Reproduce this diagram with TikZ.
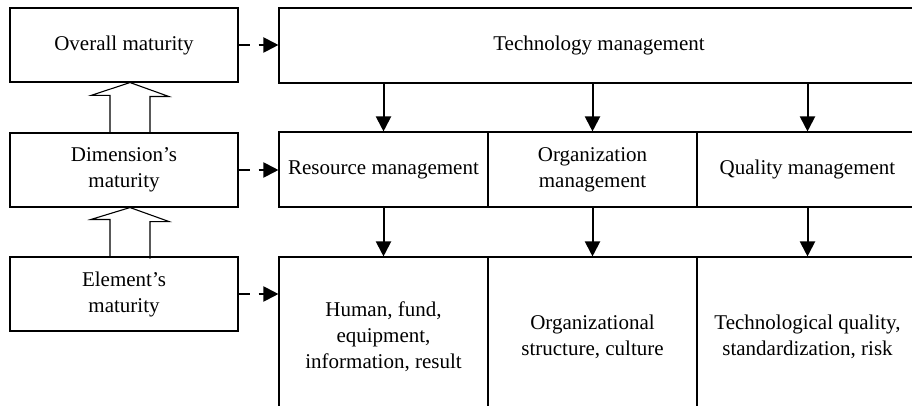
\documentclass[tikz,border=0pt]{standalone}
\usepackage{fontspec}
\setmainfont{Liberation Serif}
\usetikzlibrary{arrows.meta}

\tikzset{
  level/.style={draw, line width=1.1pt, minimum width=228pt, minimum height=74pt,
    align=center, inner sep=0pt},
  part/.style={draw, line width=1.1pt, minimum height=75pt, align=center, inner sep=0pt},
  leaf/.style={draw, line width=1.1pt, minimum height=160pt, align=center, inner sep=0pt},
  solidarrow/.style={line width=2pt, -{Triangle[length=15pt,width=15pt]}},
  dasharrow/.style={line width=2pt, dash pattern=on 11pt off 9pt on 40pt,
    -{Triangle[length=15pt,width=15pt]}},
  hollow/.style={line width=1.1pt, line join=miter}
}

\begin{document}
\begin{tikzpicture}[x=1pt, y=-1pt, font=\fontsize{21}{26}\selectfont]
            \useasboundingbox (0,0) rectangle (912,406);
            \clip (0,0) rectangle (912,406);

            % Maturity levels on the left
            \node[level] (overall) at (124,45) {Overall maturity};
            \node[level] (dimension) at (124,170) {Dimension's\\maturity};
            \node[level] (element) at (124,294) {Element's\\maturity};

            % Management structure on the right
            \node[part, minimum width=640pt] (tech) at (599,45.5) {Technology management};
            \node[part, minimum width=209pt] (resource) at (383.5,169.5) {Resource management};
            \node[part, minimum width=210pt] (organization) at (592.5,169.5) {Organization\\management};
            \node[part, minimum width=221pt] (quality) at (807.5,169.5) {Quality management};
            \node[leaf, minimum width=209pt] (human) at (383.5,337) {Human, fund,\\equipment,\\information, result};
            \node[leaf, minimum width=210pt] (orgstruct) at (592.5,337) {Organizational\\structure, culture};
            \node[leaf, minimum width=221pt] (techquality) at (807.5,337) {Technological quality,\\standardization, risk};

            % Hollow arrows between levels
            \foreach \lo/\hi in {dimension/overall, element/dimension}
              \draw[hollow] ([xshift=-14pt]\lo.north) -- ++(0,-37) -- ++(-19,0)
                -- ([xshift=6pt]\hi.south) -- ++(39,14) -- ++(-19,0) -- ++(0,37);

            % Dashed arrows from levels to structure
            \draw[dasharrow] (overall.east) -- (overall.east -| tech.west);
            \draw[dasharrow] (dimension.east) -- (dimension.east -| resource.west);
            \draw[dasharrow] (element.east) -- (element.east -| human.west);

            % Solid arrows down the structure
            \foreach \mid/\low in {resource/human, organization/orgstruct, quality/techquality}{
              \draw[solidarrow] (tech.south -| \mid.north) -- (\mid.north);
              \draw[solidarrow] (\mid.south) -- (\mid.south |- \low.north);
            }
        \end{tikzpicture}
\end{document}
